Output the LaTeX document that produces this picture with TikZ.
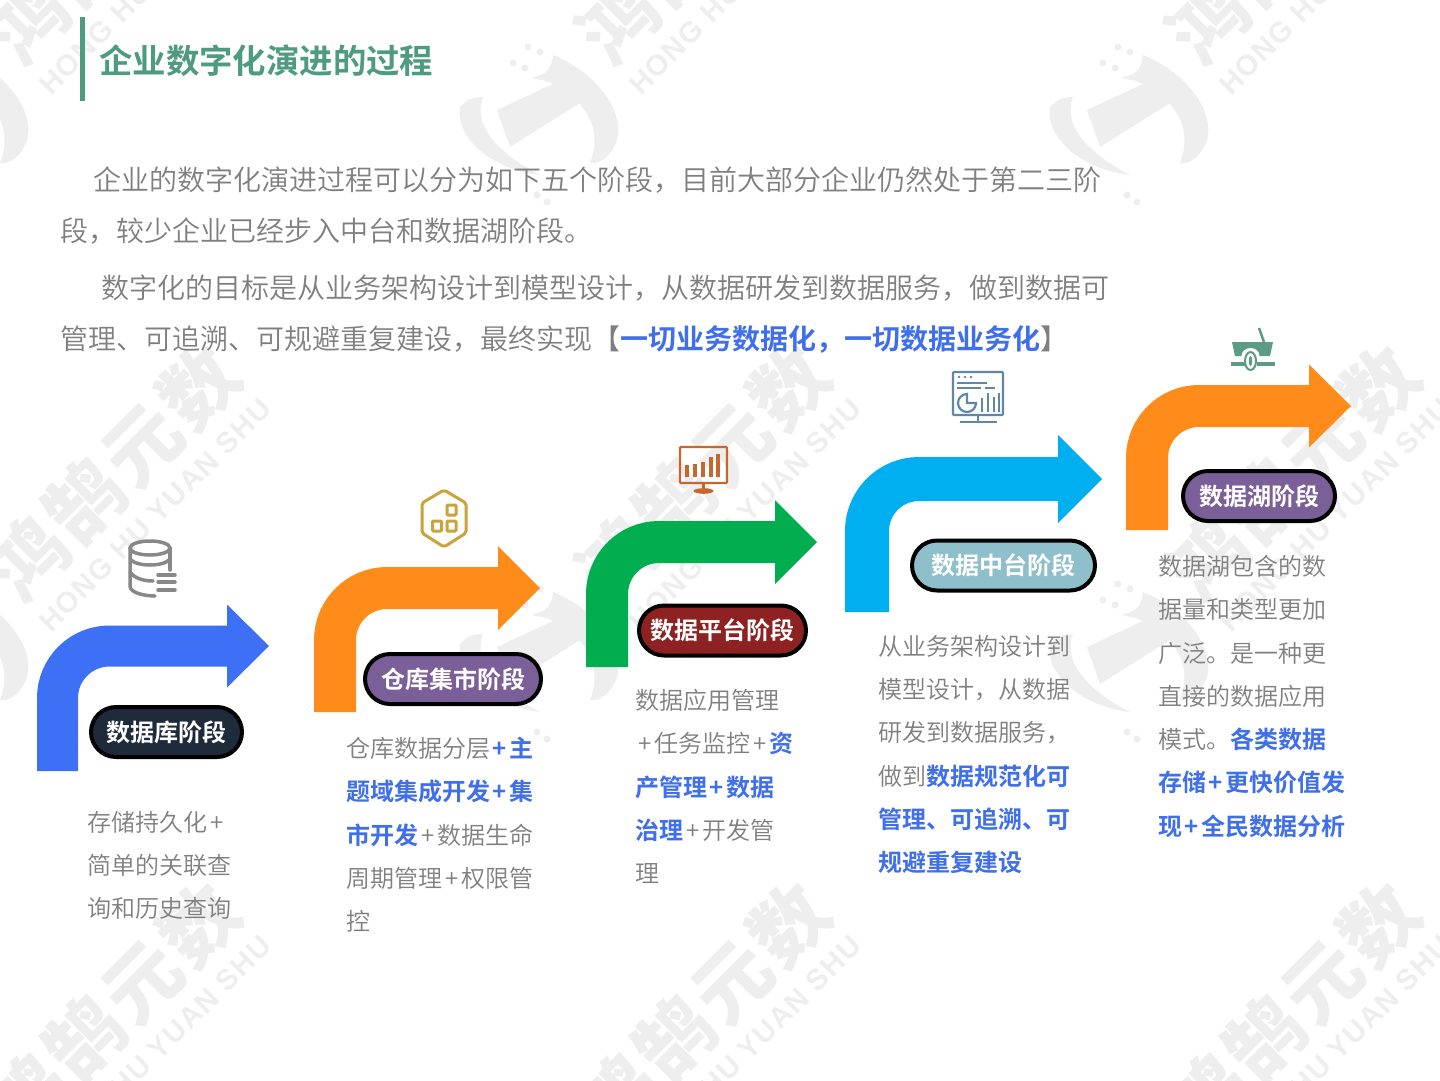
\documentclass[tikz,border=0pt]{standalone}
\usepackage{fontspec}
\setmainfont[UprightFont=* DemiLight,BoldFont=* Bold]{Noto Sans CJK SC}
\newfontfamily\wmcjk[LetterSpace=6,UprightFont=* Black]{Noto Sans CJK SC}
\newfontfamily\wmlat[LetterSpace=5,UprightFont=* Bold]{Liberation Sans}
\definecolor{titlegreen}{HTML}{4F9B80}
\definecolor{bodygray}{HTML}{7F7F7F}
\definecolor{hlblue}{HTML}{3F6FEA}
\definecolor{aBlue}{HTML}{3E70F5}
\definecolor{aOrange}{HTML}{FF8C1A}
\definecolor{aGreen}{HTML}{00AE4F}
\definecolor{aCyan}{HTML}{00AFEF}
\definecolor{pillDark}{HTML}{1F2A3A}
\definecolor{pillPurple}{HTML}{7B5F99}
\definecolor{pillRed}{HTML}{8E2222}
\definecolor{pillTeal}{HTML}{8FBFCB}
\definecolor{iconGray}{HTML}{888888}
\definecolor{iconGold}{HTML}{C8A43A}
\definecolor{iconRust}{HTML}{C4682F}
\definecolor{iconSteel}{HTML}{5F87AA}
\definecolor{iconSea}{HTML}{5C9C86}
\definecolor{wmgray}{HTML}{EEEEEE}
\newcommand{\hl}[1]{{\bfseries\color{hlblue}#1}}
\newcommand{\pl}{\kern3pt+\kern3pt}
\newcommand{\pb}{\kern2.5pt+\kern2.5pt}
\newcommand{\bentarrow}[9]{% name, colour, centre x, bottom y, centre y, base x, tip x, width, half head
  \coordinate (#1s) at (#3,#4);
  \coordinate (#1b) at (#6,#5);
  \coordinate (#1t) at (#7,#5);
  \draw[shaft,draw=#2,line width=#8pt] (#1s) |- (#1b);
  \fill[#2] (#6,#5-#9) -- (#1t) -- (#6,#5+#9) -- cycle;
}
\tikzset{
  x=1pt,y=-1pt,
  para/.style={anchor=north west,inner sep=0pt,align=left,text=bodygray,
    font=\fontsize{28}{51}\selectfont,execute at begin node={\rule{0pt}{1em}}},
  block/.style={anchor=north west,inner sep=0pt,align=left,text=bodygray,
    font=\fontsize{24}{43.3}\selectfont,execute at begin node={\rule{0pt}{1em}}},
  pill/.style={draw=black,line width=4pt,rounded corners=25pt,minimum height=50pt,
    inner sep=0pt,text=white,font=\fontsize{24}{28}\selectfont\bfseries},
  shaft/.style={rounded corners=52pt,line cap=butt},
  wmark/.style={inner sep=0pt,rotate=45,text=wmgray},
  wfill/.style={fill=wmgray},
}
\begin{document}
\begin{tikzpicture}
\useasboundingbox (0,0) rectangle (1440,1080);
\fill[white] (0,0) rectangle (1440,1080);

% watermark
\begin{scope}
\clip (0,0) rectangle (1440,1080);
\foreach \cx [count=\i] in {0,590,1180} {
  \foreach \cy [count=\j] in {-537,0,537} {
    \begin{scope}[shift={(\cx,\cy)}]
      \node[wmark,font=\fontsize{76}{80}\selectfont\wmcjk] (wa\i\j) at (113,473) {鸿鹄元数};
      \node[wmark,font=\fontsize{29}{30}\selectfont\wmlat] (wb\i\j) at (155,515) {HONG HU YUAN SHU};
      \begin{scope}[shift={(-50,110)}]
        \fill[wfill] (-80,-3) .. controls (-70,-12) .. (-57,-13) .. controls (-70,20) and (-30,50) .. (0,65) .. controls (-45,60) and (-85,30) .. cycle;
        \fill[wfill] (13,-55) .. controls (55,-38) and (85,0) .. (77,30) .. controls (72,45) and (60,55) .. (50,53) .. controls (65,15) and (40,-15) .. (8,-28) .. controls (0,-32) and (-10,-30) .. (-7,-33) .. controls (5,-35) and (12,-40) .. cycle;
        \fill[wfill] (-43,0) -- (17,-28) -- (40,-7) -- (-30,37) -- cycle;
        \foreach \dx/\dy in {-27/-47,-15/-42,-12/-63,0/-58,-3/85,7/92} {
          \fill[wfill] (\dx,\dy) circle [radius=3.5];
        }
      \end{scope}
    \end{scope}
  }
}
\end{scope}

% heading
\fill[titlegreen] (80,17) rectangle (85,101);
\node[anchor=base west,inner sep=0pt,text=titlegreen,font=\fontsize{33.4}{36}\selectfont\bfseries] (title) at (99,73.5) {企业数字化演进的过程};

% intro
\node[para] (p1a) at (93,162.5) {企业的数字化演进过程可以分为如下五个阶段，目前大部分企业仍然处于第二三阶};
\node[para] (p1b) at (60,213.5) {段，较少企业已经步入中台和数据湖阶段。};
\node[para] (p2a) at (101,270.5) {数字化的目标是从业务架构设计到模型设计，从数据研发到数据服务，做到数据可};
\node[para] (p2b) at (60,321.5) {管理、可追溯、可规避重复建设，最终实现【\hl{一切业务数据化，一切数据业务化}】};

% arrows
\bentarrow{a1}{aBlue}{57.5}{771}{646}{227}{269}{41}{41.5}
\bentarrow{a2}{aOrange}{335}{712}{588}{498}{540}{42}{42}
\bentarrow{a3}{aGreen}{607}{667}{542}{775}{817}{42}{42}
\bentarrow{a4}{aCyan}{867}{612}{479}{1058}{1102}{44}{44}
\bentarrow{a5}{aOrange}{1147}{530}{406}{1309}{1351}{42}{41.5}

% stage pills
\node[pill,fill=pillDark,minimum width=151pt] (s1) at (166.5,732) {数据库阶段};
\node[pill,fill=pillPurple,minimum width=176pt] (s2) at (453,679) {仓库集市阶段};
\node[pill,fill=pillRed,minimum width=167pt] (s3) at (722.5,630.5) {数据平台阶段};
\node[pill,fill=pillTeal,minimum width=183pt] (s4) at (1003.5,565.5) {数据中台阶段};
\node[pill,fill=pillPurple,minimum width=152pt] (s5) at (1259,496) {数据湖阶段};

% stage texts
\node[block] (t1) at (87,811) {存储持久化\pl\\简单的关联查\\询和历史查询};
\node[block] (t2) at (346,737) {仓库数据分层\hl{\pb 主}\\\hl{题域集成开发\pb 集}\\\hl{市开发}\pl 数据生命\\周期管理\pl 权限管\\控};
\node[block] (t3) at (635,689) {数据应用管理\\\pl 任务监控\pl\hl{资}\\\hl{产管理\pb 数据}\\\hl{治理}\pl 开发管\\理};
\node[block] (t4) at (878,635) {从业务架构设计到\\模型设计，从数据\\研发到数据服务，\\做到\hl{数据规范化可}\\\hl{管理、可追溯、可}\\\hl{规避重复建设}};
\node[block] (t5) at (1158,555) {数据湖包含的数\\据量和类型更加\\广泛。是一种更\\直接的数据应用\\模式。\hl{各类数据}\\\hl{存储\pb 更快价值发}\\\hl{现\pb 全民数据分析}};

% icon: database
\begin{scope}[draw=iconGray,line width=3.5pt,line cap=round]
  \draw (150,548) ellipse [x radius=20,y radius=7];
  \draw (130,548) -- (130,586) .. controls (130,593) and (145,596) .. (155,596);
  \draw (170,548) -- (170,570);
  \draw (130,559) .. controls (136,567) and (164,567) .. (170,559);
  \draw (130,572) .. controls (135,579) and (145,581) .. (153,581);
  \draw (158,575) -- (175,575);
  \draw (158,582) -- (175,582);
  \draw (158,590) -- (175,590);
\end{scope}

% icon: hexagon
\begin{scope}[draw=iconGold,line width=3pt]
  \draw[rounded corners=2pt] (444,490) -- (466,503) -- (466,533) -- (444,547) -- (422,533) -- (422,503) -- cycle;
  \draw[rounded corners=1pt] (447,505) rectangle (456,515);
  \draw[rounded corners=1pt] (432.5,521) rectangle (441.5,531);
  \draw[rounded corners=1pt] (447,521) rectangle (456,531);
\end{scope}

% icon: monitor with rising bars
\begin{scope}[draw=iconRust]
  \draw[line width=2.4pt,rounded corners=1pt] (680,447) rectangle (727,483);
  \draw[line width=4.5pt] (687,477) -- (687,465);
  \draw[line width=4.5pt] (695,477) -- (695,464);
  \draw[line width=4.5pt] (703,477) -- (703,462);
  \draw[line width=4.5pt] (711,477) -- (711,457);
  \draw[line width=4.5pt] (718,477) -- (718,454);
  \draw[line width=3pt] (703.5,483) -- (703.5,490);
  \fill[iconRust] (703.5,491) ellipse [x radius=10,y radius=2.8];
\end{scope}

% icon: dashboard
\begin{scope}[draw=iconSteel,line width=2.2pt]
  \draw[rounded corners=1pt] (953,372) rectangle (1003,415);
  \fill[iconSteel] (959,377) circle [radius=1.3];
  \fill[iconSteel] (965,377) circle [radius=1.3];
  \fill[iconSteel] (971,377) circle [radius=1.3];
  \draw (957,383) -- (987,383);
  \draw (957,388) -- (981,388);
  \draw (985,388) -- (995,388);
  \draw (967,394) arc [start angle=270,end angle=0,radius=9] -- (967,403) -- cycle;
  \draw (982,412) -- (982,398);
  \draw (988,412) -- (988,393);
  \draw (994,412) -- (994,397);
  \draw (999,412) -- (999,393);
  \draw (978,415) -- (978,421);
  \draw[line width=2.6pt] (960,422) -- (997,422);
\end{scope}

% icon: boat
\begin{scope}
  \fill[iconSea] (1232,342) -- (1273,342) -- (1270,356) -- (1235,356) -- cycle;
  \draw[iconSea,line width=2.5pt] (1259,328) -- (1264,342);
  \fill[iconSea] (1231,362) rectangle (1245,366);
  \fill[iconSea] (1257,362) rectangle (1275,366);
  \fill[white] (1250.5,356) ellipse [x radius=9,y radius=8];
  \draw[iconSea,line width=2pt,fill=white] (1250.5,361) ellipse [x radius=5.5,y radius=9];
  \fill[iconSea] (1250.5,361) ellipse [x radius=1.7,y radius=5];
\end{scope}
\end{tikzpicture}
\end{document}
